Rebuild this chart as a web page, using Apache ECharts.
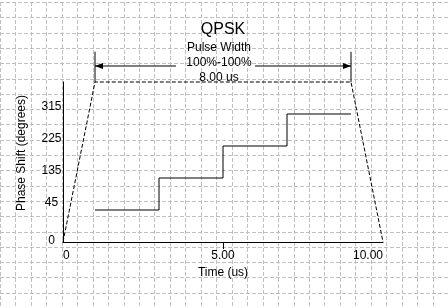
<!DOCTYPE html>
<html>
<head>
<meta charset="utf-8">
<script src="https://cdn.jsdelivr.net/npm/echarts@6/dist/echarts.min.js"></script>
<style>
html,body{margin:0;padding:0;background:#fff;}
#c{width:448px;height:308px;}
</style>
</head>
<body>
<div id="c"></div>
<script>
// ---- data ----
var stepTimes = [1, 3, 5, 7, 9];            // us
var stepPhases = [45, 135, 225, 315, 315];  // degrees
var envTimes = [0, 1, 9, 10];
var envPhases = [-45, 405, 405, -45];
var markerTimes = [1, 9];
var markerLow = 405, markerHigh = 490;
var arrowLevel = 450;
var arrowLeft = [1, 3.53];
var arrowRight = [6.0, 9];
var xTicks = [0, 5, 10];
var xTickLabels = ['0', '5.00', '10.00'];
var yTickLabels = {'-45': '0', '45': '45', '135': '135', '225': '225', '315': '315'};
var titleText = 'QPSK';
var pulseLines = ['Pulse Width', '100%-100%', '8.00 us'];
// background paper grid line indices
var gridCols = [0,1,2,3,4,5,6,7,8,9,10,11,12,13,14,15,16,17,18,19,20,21,22,23,24,25,26,27,28,29];
var gridRows = [0,1,2,3,4,5,6,7,8,9,10,11,12,13,14,15,16,17,18,19,20];

var FONT = 'Liberation Sans, Arial, sans-serif';
var chart = echarts.init(document.getElementById('c'), null, {renderer: 'canvas'});

function zip(a, b) { return a.map(function (v, i) { return [v, b[i]]; }); }

function gridLineRenderer(vertical) {
  return function (params, api) {
    var v = api.value(0);
    var p0, p1, s;
    if (vertical) {
      p0 = api.coord([v, 0]); p1 = api.coord([v, 20]);
      s = Math.round(p0[0]) + 0.5;
      return {type: 'line', silent: true, shape: {x1: s, y1: Math.min(p0[1], p1[1]), x2: s, y2: Math.max(p0[1], p1[1])},
        style: {stroke: '#c0c0c0', lineWidth: 1, lineDash: [4, 2]}};
    }
    p0 = api.coord([0, v]); p1 = api.coord([29, v]);
    s = Math.round(p0[1]) + 0.5;
    return {type: 'line', silent: true, shape: {x1: p0[0], y1: s, x2: p1[0], y2: s},
      style: {stroke: '#c0c0c0', lineWidth: 1, lineDash: [4, 2]}};
  };
}

var option = {
  backgroundColor: '#ffffff',
  animation: false,
  grid: [
    {left: 63, top: 82, width: 320, height: 160},
    {left: -1, top: 2, width: 464, height: 320}
  ],
  xAxis: [
    {
      gridIndex: 0, type: 'value', min: 0, max: 10, interval: 5,
      axisLine: {onZero: false, lineStyle: {color: '#000', width: 1}},
      axisTick: {show: true, customValues: [5], length: 7, lineStyle: {color: '#000'}},
      axisLabel: {
        color: '#000', fontSize: 12, fontFamily: FONT, margin: 8,
        alignMinLabel: 'left', alignMaxLabel: 'right',
        customValues: xTicks,
        formatter: function (v) { var i = xTicks.indexOf(v); return i >= 0 ? xTickLabels[i] : ''; }
      },
      splitLine: {show: false}, minorSplitLine: {show: false},
      name: 'Time (us)', nameLocation: 'middle', nameGap: 25,
      nameTextStyle: {color: '#000', fontSize: 12, fontFamily: FONT}
    },
    {gridIndex: 1, type: 'value', min: 0, max: 29, show: false}
  ],
  yAxis: [
    {
      gridIndex: 0, type: 'value', min: -45, max: 405, interval: 90,
      axisLine: {show: true, onZero: false, lineStyle: {color: '#000', width: 1}},
      axisTick: {show: false},
      axisLabel: {
        color: '#000', fontSize: 12, fontFamily: FONT, margin: 11.5, align: 'center',
        verticalAlign: 'middle',
        formatter: function (v) {
          var t = yTickLabels[String(v)];
          if (t === undefined) return '';
          return v === -45 ? '{z|' + t + '}' : '{n|' + t + '}';
        },
        rich: {
          z: {color: '#000', fontSize: 12, fontFamily: FONT, padding: [0, 0, 3, 0]},
          n: {color: '#000', fontSize: 12, fontFamily: FONT, padding: [0, 0, 14, 0]}
        }
      },
      splitLine: {show: false}, minorSplitLine: {show: false}
    },
    {gridIndex: 1, type: 'value', min: 0, max: 20, inverse: true, show: false}
  ],
  series: [
    {
      type: 'custom', xAxisIndex: 1, yAxisIndex: 1, data: gridCols, encode: {x: 0},
      silent: true, clip: false, z: -1, renderItem: gridLineRenderer(true)
    },
    {
      type: 'custom', xAxisIndex: 1, yAxisIndex: 1, data: gridRows, encode: {y: 0},
      silent: true, clip: false, z: -1, renderItem: gridLineRenderer(false)
    },
    {
      type: 'line', xAxisIndex: 0, yAxisIndex: 0, data: zip(stepTimes, stepPhases),
      step: 'end', symbol: 'none', silent: true, clip: false,
      lineStyle: {color: '#000', width: 1}
    },
    {
      type: 'line', xAxisIndex: 0, yAxisIndex: 0, data: zip(envTimes, envPhases),
      symbol: 'none', silent: true, clip: false,
      lineStyle: {color: '#000', width: 1, type: [4, 2]}
    },
    {
      type: 'line', xAxisIndex: 0, yAxisIndex: 0,
      data: [[markerTimes[0], markerLow], [markerTimes[0], markerHigh]],
      symbol: 'none', silent: true, clip: false, lineStyle: {color: '#000', width: 1}
    },
    {
      type: 'line', xAxisIndex: 0, yAxisIndex: 0,
      data: [[markerTimes[1], markerLow], [markerTimes[1], markerHigh]],
      symbol: 'none', silent: true, clip: false, lineStyle: {color: '#000', width: 1}
    },
    {
      type: 'line', xAxisIndex: 0, yAxisIndex: 0, silent: true, clip: false,
      symbol: 'triangle', showSymbol: true, showAllSymbol: true,
      itemStyle: {color: '#000'}, lineStyle: {color: '#000', width: 1},
      data: [
        {value: [arrowLeft[0], arrowLevel], symbol: 'triangle', symbolSize: [6, 8], symbolRotate: 90, symbolOffset: [4, 0]},
        {value: [arrowLeft[1], arrowLevel], symbol: 'none'}
      ]
    },
    {
      type: 'line', xAxisIndex: 0, yAxisIndex: 0, silent: true, clip: false,
      symbol: 'triangle', showSymbol: true, showAllSymbol: true,
      itemStyle: {color: '#000'}, lineStyle: {color: '#000', width: 1},
      data: [
        {value: [arrowRight[0], arrowLevel], symbol: 'none'},
        {value: [arrowRight[1], arrowLevel], symbol: 'triangle', symbolSize: [6, 8], symbolRotate: -90, symbolOffset: [-4, 0]}
      ]
    }
  ],
  graphic: [
    {type: 'text', x: 223, y: 30, style: {text: titleText, fill: '#000', font: '16px ' + FONT, textAlign: 'center', textVerticalAlign: 'middle'}},
    {type: 'text', x: 219, y: 48, style: {text: pulseLines[0], fill: '#000', font: '12px ' + FONT, textAlign: 'center', textVerticalAlign: 'middle'}},
    {type: 'text', x: 219, y: 63, style: {text: pulseLines[1], fill: '#000', font: '12px ' + FONT, textAlign: 'center', textVerticalAlign: 'middle'}},
    {type: 'text', x: 219, y: 77.5, style: {text: pulseLines[2], fill: '#000', font: '12px ' + FONT, textAlign: 'center', textVerticalAlign: 'middle'}},
    {type: 'text', x: 22, y: 153, rotation: Math.PI / 2, style: {text: 'Phase Shift (degrees)', fill: '#000', font: '12px ' + FONT, textAlign: 'center', textVerticalAlign: 'middle'}}
  ]
};
chart.setOption(option);
</script>
</body>
</html>
